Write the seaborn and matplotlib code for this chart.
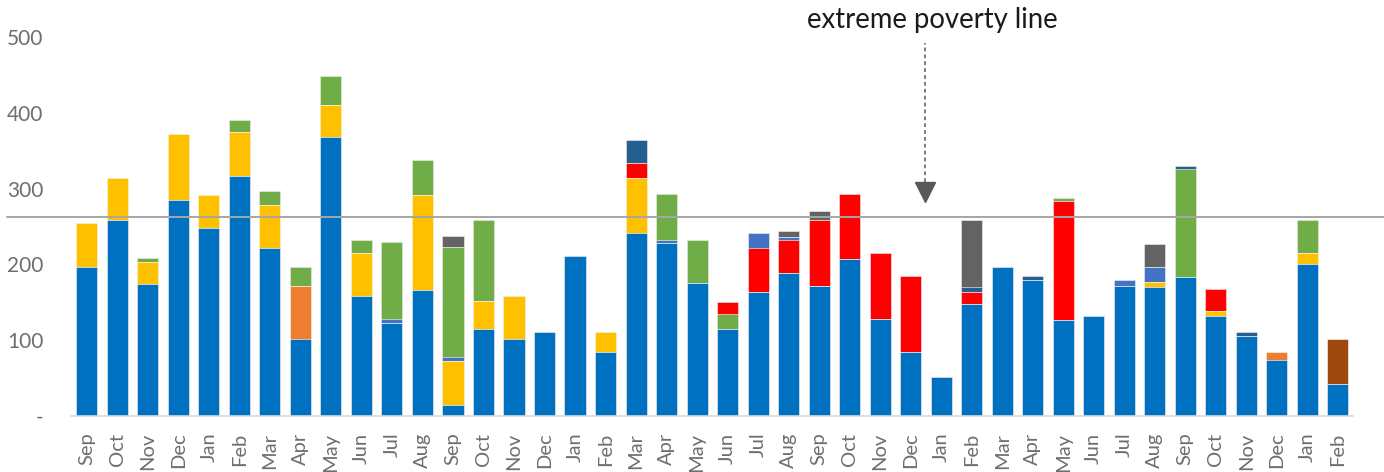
import numpy as np
import pandas as pd
import matplotlib
matplotlib.use("Agg")
import matplotlib.pyplot as plt
import seaborn as sns

months = ["Sep", "Oct", "Nov", "Dec", "Jan", "Feb", "Mar", "Apr", "May", "Jun", "Jul", "Aug",
          "Sep", "Oct", "Nov", "Dec", "Jan", "Feb", "Mar", "Apr", "May", "Jun", "Jul", "Aug",
          "Sep", "Oct", "Nov", "Dec", "Jan", "Feb", "Mar", "Apr", "May", "Jun", "Jul", "Aug",
          "Sep", "Oct", "Nov", "Dec", "Jan", "Feb"]

blue = [197, 258, 174, 285, 248, 317, 222, 101, 368, 158, 123, 166,
        14, 115, 101, 111, 211, 84, 242, 228, 175, 115, 164, 189,
        172, 207, 128, 85, 52, 148, 197, 180, 127, 132, 172, 170,
        183, 132, 105, 74, 201, 42]
orange = [0, 0, 0, 0, 0, 0, 0, 71, 0, 0, 0, 0,
          0, 0, 0, 0, 0, 0, 0, 0, 0, 0, 0, 0,
          0, 0, 0, 0, 0, 0, 0, 0, 0, 0, 0, 0,
          0, 0, 0, 10, 0, 0]
yellow = [57, 56, 29, 87, 43, 58, 57, 0, 42, 57, 0, 125,
          58, 37, 57, 0, 0, 27, 72, 0, 0, 0, 0, 0,
          0, 0, 0, 0, 0, 0, 0, 0, 0, 0, 0, 7,
          0, 6, 0, 0, 14, 0]
green_low = [0, 0, 0, 0, 0, 0, 0, 0, 0, 0, 0, 0,
             0, 0, 0, 0, 0, 0, 0, 0, 0, 20, 0, 0,
             0, 0, 0, 0, 0, 0, 0, 0, 0, 0, 0, 0,
             0, 0, 0, 0, 0, 0]
red = [0, 0, 0, 0, 0, 0, 0, 0, 0, 0, 0, 0,
       0, 0, 0, 0, 0, 0, 20, 0, 0, 15, 57, 43,
       86, 86, 87, 100, 0, 16, 0, 0, 156, 0, 0, 0,
       0, 30, 0, 0, 0, 0]
lightblue = [0, 0, 0, 0, 0, 0, 0, 0, 0, 0, 5, 0,
             6, 0, 0, 0, 0, 0, 0, 4, 0, 0, 21, 4,
             0, 0, 0, 0, 0, 0, 0, 0, 0, 0, 7, 20,
             0, 0, 0, 0, 0, 0]
green = [0, 0, 6, 0, 0, 16, 18, 25, 39, 17, 102, 47,
         145, 106, 0, 0, 0, 0, 0, 61, 57, 0, 0, 0,
         0, 0, 0, 0, 0, 0, 0, 0, 4, 0, 0, 0,
         143, 0, 0, 0, 43, 0]
navy = [0, 0, 0, 0, 0, 0, 0, 0, 0, 0, 0, 0,
        0, 0, 0, 0, 0, 0, 30, 0, 0, 0, 0, 0,
        0, 0, 0, 0, 0, 6, 0, 5, 0, 0, 0, 0,
        4, 0, 6, 0, 0, 0]
gray = [0, 0, 0, 0, 0, 0, 0, 0, 0, 0, 0, 0,
        15, 0, 0, 0, 0, 0, 0, 0, 0, 0, 0, 8,
        13, 0, 0, 0, 0, 88, 0, 0, 0, 0, 0, 30,
        0, 0, 0, 0, 0, 0]
brown = [0, 0, 0, 0, 0, 0, 0, 0, 0, 0, 0, 0,
         0, 0, 0, 0, 0, 0, 0, 0, 0, 0, 0, 0,
         0, 0, 0, 0, 0, 0, 0, 0, 0, 0, 0, 0,
         0, 0, 0, 0, 0, 59]

POVERTY_LINE = 262
y_ticks = [0, 100, 200, 300, 400, 500]
y_tick_labels = ["-", "100", "200", "300", "400", "500"]

series = [
    ("blue", blue, "#0070C0"),
    ("orange", orange, "#ED7D31"),
    ("yellow", yellow, "#FFC000"),
    ("green_low", green_low, "#70AD47"),
    ("red", red, "#FF0000"),
    ("lightblue", lightblue, "#4472C4"),
    ("green", green, "#70AD47"),
    ("navy", navy, "#255E91"),
    ("gray", gray, "#636363"),
    ("brown", brown, "#9E480E"),
]

sns.set_theme(style="white")
plt.rcParams["font.family"] = ["Lato", "DejaVu Sans"]

fig = plt.figure(figsize=(13.84, 4.72), dpi=100)
ax = fig.add_axes([71 / 1384, 56 / 472, (1353 - 71) / 1384, (416 - 37) / 472])

idx = np.arange(len(months))
cum = np.zeros(len(months))
layers = []
for name, vals, col in series:
    cum = cum + np.array(vals, dtype=float)
    layers.append((name, cum.copy(), col))

for name, tops, col in reversed(layers):
    df = pd.DataFrame({"i": idx, "v": tops})
    sns.barplot(data=df, x="i", y="v", color=col, saturation=1, width=0.69,
                edgecolor="white", linewidth=0.4, ax=ax, errorbar=None)

ax.set_xlim(-0.52, len(months) - 0.5)
ax.set_ylim(0, 500)
ax.set_xlabel("")
ax.set_ylabel("")
ax.set_xticks(idx)
ax.set_xticklabels(months, rotation=90, color="#6E6E6E", fontsize=14.5)
ax.set_yticks(y_ticks)
ax.set_yticklabels(y_tick_labels, color="#6E6E6E", fontsize=15)
ax.tick_params(axis="y", length=0, pad=20)
ax.tick_params(axis="x", length=0, pad=12)
for s in ["top", "right", "left"]:
    ax.spines[s].set_visible(False)
ax.spines["bottom"].set_color("#D9D9D9")
ax.spines["bottom"].set_linewidth(1.2)

# poverty line across the full width
ax.plot([-0.05, 1.03], [POVERTY_LINE, POVERTY_LINE], transform=ax.get_yaxis_transform(),
        color="#A6A6A6", linewidth=1.4, clip_on=False, zorder=5)

# arrow annotation
xa = (925 - 87) / 30.5
ax.plot([xa, xa], [309, 492], linestyle=(0, (2.5, 2)), color="#595959", linewidth=1.1, clip_on=False)
ax.plot([xa], [296], marker="v", markersize=14, color="#595959", clip_on=False)
fig.text(932 / 1384, 1 - 20 / 472, "extreme poverty line", ha="center", va="center",
         fontsize=19.8, color="#1a1a1a")

fig.savefig("out.png", dpi=100)
